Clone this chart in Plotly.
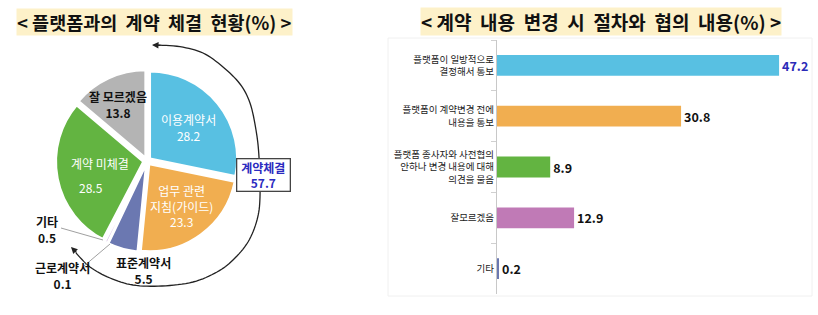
import plotly.graph_objects as go

W, H = 818, 315

# ---------------- data ----------------
pie_labels = ["이용계약서", "업무 관련 지침(가이드)", "표준계약서", "근로계약서", "기타", "계약 미체결", "잘 모르겠음"]
pie_values = [28.2, 23.3, 5.5, 0.1, 0.5, 28.5, 13.8]
contract_label = "계약체결"
contract_total = 57.7

bar_labels = [
    "플랫폼이 일방적으로<br>결정해서 통보",
    "플랫폼이 계약변경 전에<br>내용을 통보",
    "플랫폼 종사자와 사전협의<br>안하나 변경 내용에 대해<br>의견을 물음",
    "잘모르겠음",
    "기타",
]
bar_values = [47.2, 30.8, 8.9, 12.9, 0.2]

title_left = "< 플랫폼과의  계약  체결  현황(%) >"
title_right = "< 계약  내용  변경  시  절차와  협의  내용(%) >"

# ---------------- style ----------------
FONT = "Noto Sans CJK KR"
pie_colors = ["#58C0E2", "#F1AE50", "#6B78B1", "#E9C222", "#D7BDE2", "#63B441", "#B4B4B4"]
bar_colors = ["#58C0E2", "#F1AE50", "#63B441", "#C07AB6", "#6B78B1"]
bar_text_colors = ["#2B2BB8", "#111111", "#111111", "#111111", "#111111"]


def X(p):
    return p / W


def Y(p):
    return 1 - p / H


def nb(s):
    return s.replace("  ", "\u00a0 ")


fig = go.Figure()

# pie
cx, cy, half = 147, 161, 91
fig.add_trace(go.Pie(
    labels=pie_labels, values=pie_values, sort=False, direction="clockwise", rotation=0,
    marker=dict(colors=pie_colors, line=dict(color="white", width=2)),
    pull=0.045, textinfo="none", hoverinfo="label+value", showlegend=False,
    domain=dict(x=[X(cx - half), X(cx + half)], y=[Y(cy + half), Y(cy - half)]),
))

# bars
fig.add_trace(go.Bar(
    y=bar_labels, x=bar_values, orientation="h", marker=dict(color=bar_colors, line=dict(width=0)),
    texttemplate="<b>%{x}</b>", textposition="outside",
    textfont=dict(family=FONT, size=12.5, color=bar_text_colors),
    cliponaxis=False, showlegend=False, xaxis="x", yaxis="y",
))

annotations = []


def ann(x, y, text, size=12, color="#111", **kw):
    d = dict(x=X(x), y=Y(y), xref="paper", yref="paper", text=text, showarrow=False,
             font=dict(family=FONT, size=size, color=color), xanchor="center", yanchor="middle")
    d.update(kw)
    annotations.append(d)


# titles
ann(154, 22, "<b>" + nb(title_left) + "</b>", size=18.5, bgcolor="#FDF1C9", borderpad=0)
ann(601, 22, "<b>" + nb(title_right) + "</b>", size=19, bgcolor="#FDF1C9", borderpad=0)

# pie labels
ann(188, 127, f"{pie_labels[0]}<br>{pie_values[0]}", color="white")
ann(181, 206, "업무 관련<br>지침(가이드)<br>" + f"{pie_values[1]}", color="white")
ann(143, 270, f"<b>{pie_labels[2]}<br>{pie_values[2]}</b>")
ann(63, 275, f"<b>{pie_labels[3]}<br>{pie_values[3]}</b>")
ann(47, 229, f"<b>{pie_labels[4]}<br>{pie_values[4]}</b>")
ann(100, 163, pie_labels[5], color="white")
ann(91, 187, f"{pie_values[5]}", color="white")
ann(118, 105, f"<b>{pie_labels[6]}<br>{pie_values[6]}</b>")

# box
ann(263, 175, f"<b>{contract_label}<br>{contract_total}</b>", color="#2B2BC0",
    bgcolor="white", bordercolor="#444", borderwidth=1.3, width=50, height=29)

# arrow heads for arc
annotations.append(dict(x=X(152), y=Y(45), ax=10, ay=0.5, xref="paper", yref="paper",
                        showarrow=True, arrowhead=2, arrowsize=1,
                        arrowwidth=1.3, arrowcolor="#222", text=""))
annotations.append(dict(x=X(71), y=Y(247), ax=7, ay=7, xref="paper", yref="paper",
                        showarrow=True, arrowhead=2, arrowsize=1,
                        arrowwidth=1.3, arrowcolor="#222", text=""))

# arc through points (catmull-rom)
pts = [(155, 45), (180, 46.7), (203, 53), (223, 67), (240, 84), (250, 103), (256, 130), (259, 157),
       (260, 197), (257, 220), (248, 242), (233, 260), (217, 272), (193, 282), (162, 286),
       (133, 285), (110, 278), (90, 267), (76, 253)]


def catmull(points, n=8):
    out = []
    P = [points[0]] + points + [points[-1]]
    for i in range(1, len(P) - 2):
        p0, p1, p2, p3 = P[i - 1], P[i], P[i + 1], P[i + 2]
        for k in range(n):
            t = k / n
            t2, t3 = t * t, t * t * t
            x = 0.5 * (2 * p1[0] + (-p0[0] + p2[0]) * t + (2 * p0[0] - 5 * p1[0] + 4 * p2[0] - p3[0]) * t2 + (-p0[0] + 3 * p1[0] - 3 * p2[0] + p3[0]) * t3)
            y = 0.5 * (2 * p1[1] + (-p0[1] + p2[1]) * t + (2 * p0[1] - 5 * p1[1] + 4 * p2[1] - p3[1]) * t2 + (-p0[1] + 3 * p1[1] - 3 * p2[1] + p3[1]) * t3)
            out.append((x, y))
    out.append(points[-1])
    return out


arc = catmull(pts)
path = "M " + " L ".join(f"{X(x):.5f},{Y(y):.5f}" for x, y in arc)

shapes = [
    dict(type="path", path=path, xref="paper", yref="paper", line=dict(color="#222", width=1.3)),
    # leader lines
    dict(type="line", xref="paper", yref="paper", x0=X(61), y0=Y(228), x1=X(103), y1=Y(240),
         line=dict(color="#A0A0A0", width=1)),
    dict(type="line", xref="paper", yref="paper", x0=X(84), y0=Y(266), x1=X(110), y1=Y(244),
         line=dict(color="#A0A0A0", width=1)),
    # faint frame of bar chart area
    dict(type="rect", xref="paper", yref="paper", x0=X(388), y0=Y(296), x1=X(812), y1=Y(38),
         line=dict(color="#F0F0F0", width=1), layer="below"),
]

fig.update_layout(
    width=W, height=H, margin=dict(l=0, r=0, t=0, b=0, pad=0),
    paper_bgcolor="white", plot_bgcolor="white", showlegend=False,
    font=dict(family=FONT, color="#111"),
    bargap=0.59,
    xaxis=dict(domain=[X(497), X(800)], range=[0, 50.7], visible=False, fixedrange=True),
    yaxis=dict(domain=[Y(294), Y(40)], type="category", autorange="reversed",
               showline=True, linecolor="#C8C8C8", linewidth=1, ticks="outside", tickson="boundaries",
               ticklen=5, tickcolor="#D0D0D0", showgrid=False, zeroline=False,
               tickfont=dict(family=FONT, size=9.5, color="#222")),
    annotations=annotations, shapes=shapes,
)

fig.write_html("out.html")
